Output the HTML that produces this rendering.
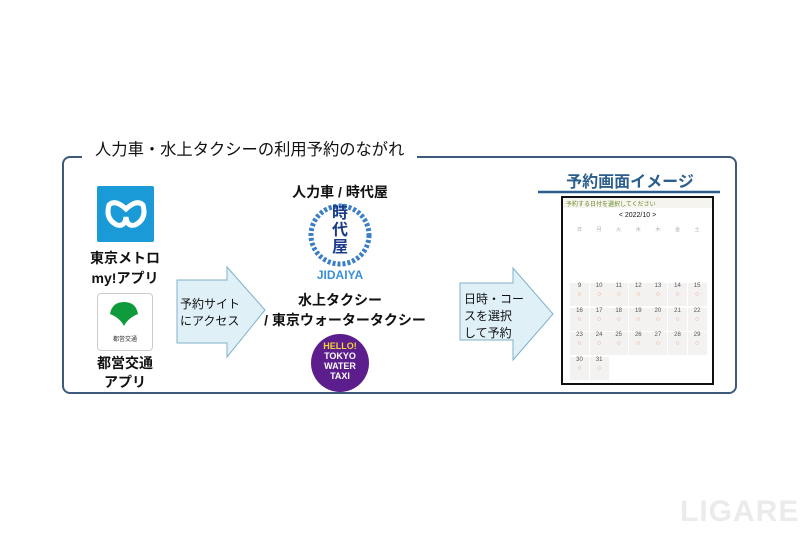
<!DOCTYPE html>
<html><head><meta charset="utf-8"><style>
body{margin:0;width:800px;height:533px;background:#fff;position:relative;overflow:hidden;font-family:"Liberation Sans","Noto Sans CJK JP",sans-serif;color:#111}
.a{position:absolute}
.t{position:absolute;white-space:nowrap;text-align:center}
.cell{position:absolute;width:19px;height:23px;background:#f3f2f0;font-size:6px;color:#555;text-align:center}
.cell i{display:block;font-style:normal;color:#e39a70;font-size:7px;margin-top:2px}
</style></head><body>
<div class="a" style="left:62px;top:156px;width:671px;height:234px;border:2.5px solid #3e5a7a;border-radius:8px"></div>
<div class="a" style="left:82px;top:145px;width:335px;height:20px;background:#fff"></div>
<div class="t" style="left:95px;top:136px;font-size:16.3px;">人力車・水上タクシーの利用予約のながれ</div>

<div class="a" style="left:97px;top:186px;width:57px;height:56px;background:#1a9ad6;border-radius:2px"></div>
<svg class="a" style="left:105px;top:197px" width="42" height="34" viewBox="0 0 42 34"><path d="M4 8 Q10 2 21 12 Q32 2 38 8 Q42 22 30 28 Q22 30 21 20 Q20 30 12 28 Q0 22 4 8Z" fill="none" stroke="#fff" stroke-width="5"/></svg>
<div class="t" style="left:80px;top:248px;width:90px;font-size:14px;font-weight:bold">東京メトロ</div>
<div class="t" style="left:80px;top:268px;width:90px;font-size:14px;font-weight:bold">my!アプリ</div>
<div class="a" style="left:97px;top:293px;width:54px;height:56px;border:1px solid #ccc;border-radius:4px;background:#fff"></div>
<svg class="a" style="left:108px;top:300px" width="32" height="28"><path d="M16 26 Q12 18 2 14 Q4 2 16 2 Q28 2 30 14 Q20 18 16 26 Z" fill="#0f9b3b"/></svg>
<div class="t" style="left:97px;top:334px;width:56px;font-size:6px;color:#333">都営交通</div>
<div class="t" style="left:80px;top:353px;width:90px;font-size:14px;font-weight:bold">都営交通</div>
<div class="t" style="left:80px;top:372px;width:90px;font-size:14px;font-weight:bold">アプリ</div>

<svg class="a" style="left:0;top:0" width="800" height="533">
<polygon points="177,280 227,280 227,267 265,310 227,357 227,343 177,343" fill="#dff0f7" stroke="#7fb2c8" stroke-width="1"/>
<polygon points="460,283 513,283 513,268 553,314 513,360 513,340 460,340" fill="#dff0f7" stroke="#7fb2c8" stroke-width="1"/>
<circle cx="340" cy="235" r="29" fill="none" stroke="#3a7fc6" stroke-width="5" stroke-dasharray="3 2"/>
<circle cx="340" cy="363" r="29" fill="#5b1e8c"/>
<line x1="538" y1="192" x2="720" y2="192" stroke="#2b5e8c" stroke-width="2.5"/>
</svg>
<div class="t" style="left:180px;top:296px;font-size:12px;text-align:left;line-height:17px">予約サイト<br>にアクセス</div>
<div class="t" style="left:464px;top:291px;font-size:12px;text-align:left;line-height:17px">日時・コー<br>スを選択<br>して予約</div>

<div class="t" style="left:270px;top:182px;width:140px;font-size:14px;font-weight:bold">人力車 / 時代屋</div>
<div class="t" style="left:325px;top:205px;width:30px;font-size:16px;font-weight:bold;color:#1b3b8a;line-height:17px;white-space:normal">時代屋</div>
<div class="t" style="left:300px;top:268px;width:80px;font-size:12px;font-weight:bold;color:#3a8fd6">JIDAIYA</div>
<div class="t" style="left:270px;top:290px;width:140px;font-size:14px;font-weight:bold">水上タクシー</div>
<div class="t" style="left:245px;top:310px;width:200px;font-size:14px;font-weight:bold">/ 東京ウォータータクシー</div>
<div class="t" style="left:311px;top:341px;width:58px;font-size:9px;font-weight:bold;color:#fff;line-height:10px"><span style="color:#f5d23a">HELLO!</span><br>TOKYO<br>WATER<br>TAXI</div>

<div class="t" style="left:540px;top:168px;width:180px;font-size:16px;font-weight:bold;color:#2b5e8c">予約画面イメージ</div>
<div class="a" style="left:561px;top:196px;width:149px;height:185px;border:2px solid #111;background:#fff"></div>
<div class="a" style="left:563px;top:198px;width:149px;height:10px;background:#f6f4ee"></div>
<div class="t" style="left:566px;top:199px;font-size:6px;color:#6a8a2a">予約する日付を選択してください</div>
<div class="t" style="left:600px;top:212px;width:75px;font-size:7px">&lt; 2022/10 &gt;</div>
<div id="cal"></div>
<script>
var h='',w=['日','月','火','水','木','金','土'];
for(var c=0;c<7;c++)h+='<div class="t" style="left:'+(570+c*19.6)+'px;top:226px;width:19px;font-size:5px;color:#aaa">'+w[c]+'</div>';
var d=9;for(var r=0;r<4;r++)for(var c=0;c<7;c++){if(d>31)break;h+='<div class="cell" style="left:'+(570+c*19.6)+'px;top:'+(283+r*24.5)+'px">'+d+'<i>○</i></div>';d++;}
document.getElementById('cal').outerHTML=h;
</script>
<div class="t" style="left:680px;top:495px;font-size:30px;font-weight:bold;color:#ebebeb;letter-spacing:1px">LIGARE</div>
</body></html>
